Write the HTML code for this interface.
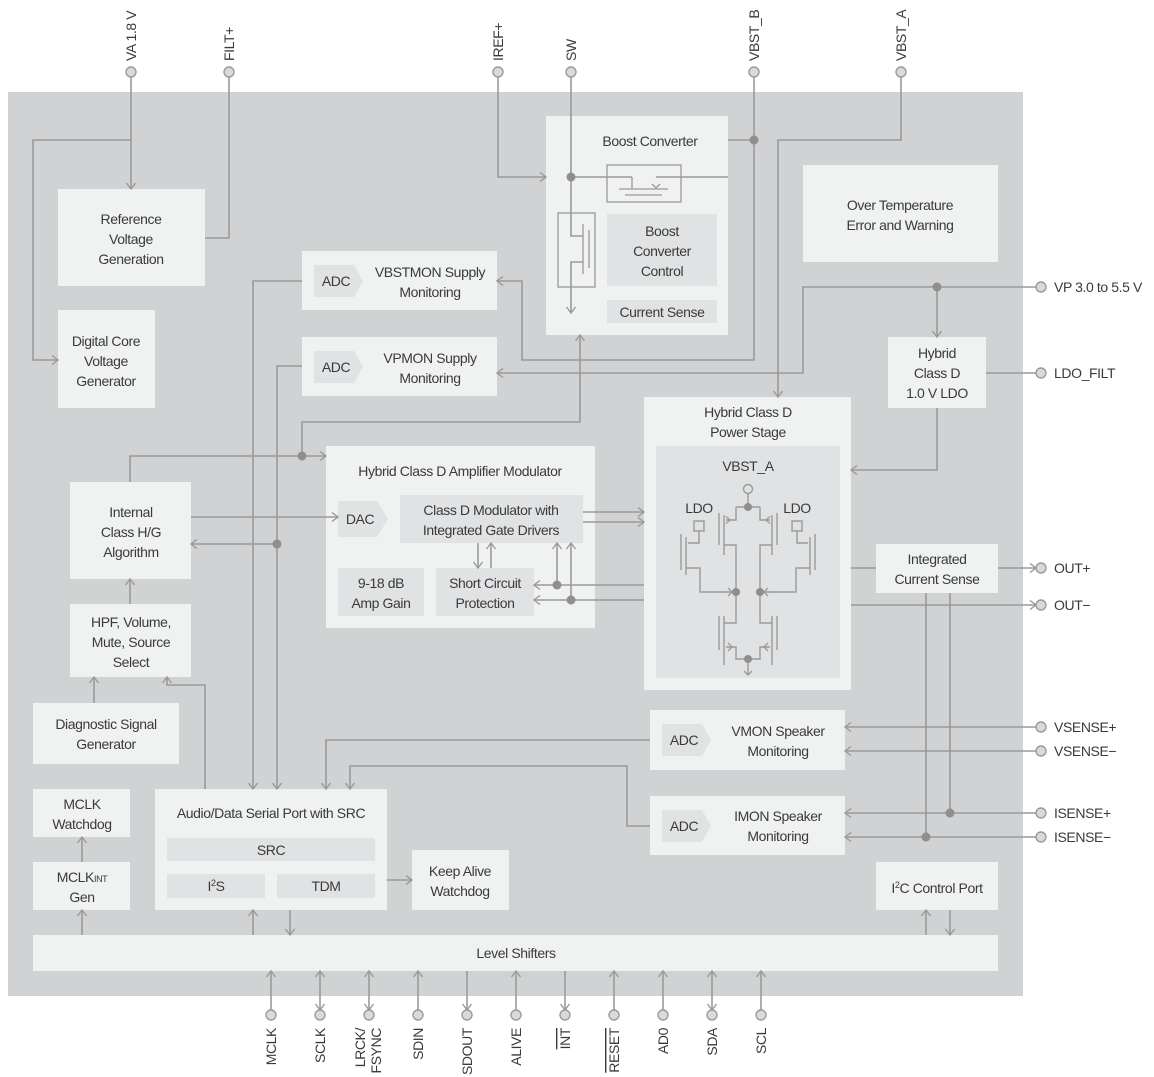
<!DOCTYPE html>
<html><head><meta charset="utf-8"><style>
html,body{margin:0;padding:0;background:#fff}
svg{display:block}
text{font-family:"Liberation Sans",sans-serif;font-size:14px;fill:#3a3a3a;letter-spacing:-0.4px}
.b{fill:#f0f1f1}.i{fill:#e1e2e3}
.l{stroke:#9a9a9a;stroke-width:1.6;fill:none}
.d{fill:#8f8f8f}
.p{fill:#d9dadb;stroke:#9a9a9a;stroke-width:1.4}
</style></head><body>
<svg width="1154" height="1077" viewBox="0 0 1154 1077" xmlns="http://www.w3.org/2000/svg">
<defs>
<marker id="a" markerWidth="10" markerHeight="10" refX="8" refY="5" orient="auto" markerUnits="userSpaceOnUse">
<path d="M2,0.5 L8,5 L2,9.5" fill="none" stroke="#9a9a9a" stroke-width="1.4"/></marker>
<marker id="s" markerWidth="10" markerHeight="10" refX="2" refY="5" orient="auto" markerUnits="userSpaceOnUse">
<path d="M8,0.5 L2,5 L8,9.5" fill="none" stroke="#9a9a9a" stroke-width="1.4"/></marker>
</defs>
<rect x="8" y="92" width="1015" height="904" fill="#d1d2d4"/>

<!-- blocks -->
<rect class="b" x="58" y="189" width="147" height="97"/>
<text x="131" y="224" text-anchor="middle">Reference</text><text x="131" y="244" text-anchor="middle">Voltage</text><text x="131" y="264" text-anchor="middle">Generation</text>
<rect class="b" x="58" y="310" width="97" height="98"/>
<text x="106" y="346" text-anchor="middle">Digital Core</text><text x="106" y="366" text-anchor="middle">Voltage</text><text x="106" y="386" text-anchor="middle">Generator</text>

<rect class="b" x="302" y="251" width="195" height="59"/>
<path class="i" d="M314,265 H354 L363,281 L354,297 H314 Z"/>
<text x="336" y="286" text-anchor="middle">ADC</text>
<text x="430" y="277" text-anchor="middle">VBSTMON Supply</text><text x="430" y="297" text-anchor="middle">Monitoring</text>
<rect class="b" x="302" y="337" width="195" height="59"/>
<path class="i" d="M314,351 H354 L363,367 L354,383 H314 Z"/>
<text x="336" y="372" text-anchor="middle">ADC</text>
<text x="430" y="363" text-anchor="middle">VPMON Supply</text><text x="430" y="383" text-anchor="middle">Monitoring</text>

<rect class="b" x="546" y="116" width="182" height="219"/>
<text x="650" y="146" text-anchor="middle">Boost Converter</text>
<rect class="i" x="607" y="214" width="110" height="72"/>
<text x="662" y="236" text-anchor="middle">Boost</text><text x="662" y="256" text-anchor="middle">Converter</text><text x="662" y="276" text-anchor="middle">Control</text>
<rect class="i" x="607" y="300" width="110" height="23"/>
<text x="662" y="317" text-anchor="middle">Current Sense</text>
<rect x="607" y="165" width="74" height="37" fill="none" stroke="#9a9a9a" stroke-width="1.3"/>
<rect x="558" y="213" width="37" height="74" fill="none" stroke="#9a9a9a" stroke-width="1.3"/>
<path class="l" style="stroke-width:1.3" d="M632,177 V189 M619,189 H668 M625,195 H662"/>
<path d="M652,184 l4,4 l4,-4" fill="none" stroke="#9a9a9a" stroke-width="1.3"/>
<path class="l" style="stroke-width:1.3" d="M583,224 V274 M589,230 V268"/>

<rect class="b" x="803" y="165" width="195" height="97"/>
<text x="900" y="210" text-anchor="middle">Over Temperature</text><text x="900" y="230" text-anchor="middle">Error and Warning</text>

<rect class="b" x="888" y="337" width="98" height="71"/>
<text x="937" y="358" text-anchor="middle">Hybrid</text><text x="937" y="378" text-anchor="middle">Class D</text><text x="937" y="398" text-anchor="middle">1.0 V LDO</text>

<rect class="b" x="644" y="397" width="207" height="293"/>
<text x="748" y="417" text-anchor="middle">Hybrid Class D</text><text x="748" y="437" text-anchor="middle">Power Stage</text>
<rect class="i" x="656" y="446" width="184" height="232"/>
<text x="748" y="471" text-anchor="middle">VBST_A</text>

<!-- power stage schematic -->
<g class="l" style="stroke-width:1.4">
<circle cx="748" cy="489" r="4.5" fill="none"/>
<path d="M748,494 V507 M736,507 H760 M736,507 V520 H726 M760,507 V520 H770"/>
<path d="M724,515 V555 M719,513 V545 M724,545 H736 V592 M772,515 V555 M777,513 V545 M772,545 H760 V592"/>
<path d="M736,592 V623 H724 M760,592 V623 H772 M724,616 V665 M772,616 V665 M719,616 V650 M777,616 V650 M726,647 H736 V659 H760 V647 H770"/>
<path d="M748,659 V675"/>
<rect x="694" y="521" width="10" height="10" fill="none"/><rect x="792" y="521" width="10" height="10" fill="none"/>
<path d="M699,531 V543 H688 M797,531 V543 H808 M686,537 V575 M681,534 V570 M810,537 V575 M815,534 V570"/>
<path d="M686,568 H700 V592 H734 M810,568 H796 V592 H762"/>
</g>
<path d="M730,520 l-4,-3.5 M730,520 l-4,3.5 M766,520 l4,-3.5 M766,520 l4,3.5 M732,592 l-4,-4 M732,592 l-4,4 M764,592 l4,-4 M764,592 l4,4 M732,647 l-4,-4 M732,647 l-4,4 M764,647 l4,-4 M764,647 l4,4 M748,675 l-4,-4 M748,675 l4,-4" stroke="#9a9a9a" stroke-width="1.3" fill="none"/>
<circle class="d" cx="748" cy="507" r="4"/><circle class="d" cx="736" cy="592" r="4"/><circle class="d" cx="760" cy="592" r="4"/><circle class="d" cx="748" cy="659" r="4"/>
<text x="699" y="513" text-anchor="middle">LDO</text><text x="797" y="513" text-anchor="middle">LDO</text>

<rect class="b" x="326" y="446" width="269" height="182"/>
<text x="460" y="476" text-anchor="middle">Hybrid Class D Amplifier Modulator</text>
<path class="i" d="M338,501 H377 L388,519 L377,537 H338 Z"/>
<text x="360" y="524" text-anchor="middle">DAC</text>
<rect class="i" x="400" y="495" width="183" height="48"/>
<text x="491" y="515" text-anchor="middle">Class D Modulator with</text><text x="491" y="535" text-anchor="middle">Integrated Gate Drivers</text>
<rect class="i" x="338" y="568" width="86" height="48"/>
<text x="381" y="588" text-anchor="middle">9-18 dB</text><text x="381" y="608" text-anchor="middle">Amp Gain</text>
<rect class="i" x="436" y="568" width="98" height="48"/>
<text x="485" y="588" text-anchor="middle">Short Circuit</text><text x="485" y="608" text-anchor="middle">Protection</text>

<rect class="b" x="70" y="482" width="121" height="97"/>
<text x="131" y="517" text-anchor="middle">Internal</text><text x="131" y="537" text-anchor="middle">Class H/G</text><text x="131" y="557" text-anchor="middle">Algorithm</text>
<rect class="b" x="70" y="604" width="121" height="73"/>
<text x="131" y="627" text-anchor="middle">HPF, Volume,</text><text x="131" y="647" text-anchor="middle">Mute, Source</text><text x="131" y="667" text-anchor="middle">Select</text>
<rect class="b" x="33" y="703" width="146" height="61"/>
<text x="106" y="729" text-anchor="middle">Diagnostic Signal</text><text x="106" y="749" text-anchor="middle">Generator</text>
<rect class="b" x="33" y="789" width="97" height="48"/>
<text x="82" y="809" text-anchor="middle">MCLK</text><text x="82" y="829" text-anchor="middle">Watchdog</text>
<rect class="b" x="33" y="862" width="97" height="48"/>
<text x="82" y="882" text-anchor="middle">MCLK<tspan font-size="9">INT</tspan></text><text x="82" y="902" text-anchor="middle">Gen</text>

<rect class="b" x="155" y="789" width="232" height="121"/>
<text x="271" y="818" text-anchor="middle">Audio/Data Serial Port with SRC</text>
<rect class="i" x="167" y="838" width="208" height="23"/>
<text x="271" y="855" text-anchor="middle">SRC</text>
<rect class="i" x="167" y="874" width="98" height="24"/>
<text x="216" y="891" text-anchor="middle">I<tspan font-size="9" dy="-5">2</tspan><tspan dy="5">S</tspan></text>
<rect class="i" x="277" y="874" width="98" height="24"/>
<text x="326" y="891" text-anchor="middle">TDM</text>
<rect class="b" x="412" y="850" width="97" height="60"/>
<text x="460" y="876" text-anchor="middle">Keep Alive</text><text x="460" y="896" text-anchor="middle">Watchdog</text>

<rect class="b" x="650" y="710" width="195" height="60"/>
<path class="i" d="M662,724 H702 L711,740 L702,756 H662 Z"/>
<text x="684" y="745" text-anchor="middle">ADC</text>
<text x="778" y="736" text-anchor="middle">VMON Speaker</text><text x="778" y="756" text-anchor="middle">Monitoring</text>
<rect class="b" x="650" y="796" width="195" height="59"/>
<path class="i" d="M662,810 H702 L711,826 L702,842 H662 Z"/>
<text x="684" y="831" text-anchor="middle">ADC</text>
<text x="778" y="821" text-anchor="middle">IMON Speaker</text><text x="778" y="841" text-anchor="middle">Monitoring</text>

<rect class="b" x="876" y="544" width="122" height="49"/>
<text x="937" y="564" text-anchor="middle">Integrated</text><text x="937" y="584" text-anchor="middle">Current Sense</text>
<rect class="b" x="876" y="862" width="122" height="48"/>
<text x="937" y="893" text-anchor="middle">I<tspan font-size="9" dy="-5">2</tspan><tspan dy="5">C Control Port</tspan></text>
<rect class="b" x="33" y="935" width="965" height="36"/>
<text x="516" y="958" text-anchor="middle">Level Shifters</text>

<!-- connectors -->
<path class="l" d="M131,77 V189" marker-end="url(#a)"/>
<path class="l" d="M131,140 H33 V360 H58" marker-end="url(#a)"/>
<path class="l" d="M229,77 V238 H205"/>
<path class="l" d="M498,77 V177 H546" marker-end="url(#a)"/>
<path class="l" d="M571,77 V236 H583 M583,262 H571 V313" marker-end="url(#a)"/>
<path class="l" d="M571,177 H632 M656,177 H728"/>
<circle class="d" cx="571" cy="177" r="4.5"/>
<path class="l" d="M754,77 V360 H522 V281 H497" marker-end="url(#a)"/>
<path class="l" d="M728,140 H754"/><circle class="d" cx="754" cy="140" r="4.5"/>
<path class="l" d="M901,77 V140 H778 V397" marker-end="url(#a)"/>
<path class="l" d="M1036,287 H803 V373 H497" marker-end="url(#a)"/>
<path class="l" d="M937,287 V337" marker-end="url(#a)"/><circle class="d" cx="937" cy="287" r="4.5"/>
<path class="l" d="M1036,373 H986"/>
<path class="l" d="M937,408 V470 H851" marker-end="url(#a)"/>
<path class="l" d="M302,281 H253 V789" marker-end="url(#a)"/>
<path class="l" d="M302,366 H277 V789" marker-end="url(#a)"/>
<path class="l" d="M277,544 H191" marker-end="url(#a)"/><circle class="d" cx="277" cy="544" r="4.5"/>
<path class="l" d="M130,482 V456 H326" marker-end="url(#a)"/>
<path class="l" d="M302,456 V422 H580 V335" marker-end="url(#a)"/><circle class="d" cx="302" cy="456" r="4.5"/>
<path class="l" d="M191,517 H338" marker-end="url(#a)"/>
<path class="l" d="M205,789 V685 H167 V677" marker-end="url(#a)"/>
<path class="l" d="M94,703 V677" marker-end="url(#a)"/>
<path class="l" d="M130,604 V579" marker-end="url(#a)"/>
<path class="l" d="M82,862 V837" marker-end="url(#a)"/>
<path class="l" d="M82,935 V910" marker-end="url(#a)"/>
<path class="l" d="M253,935 V910" marker-end="url(#a)"/>
<path class="l" d="M290,910 V935" marker-end="url(#a)"/>
<path class="l" d="M387,880 H412" marker-end="url(#a)"/>
<path class="l" d="M926,935 V910" marker-end="url(#a)"/>
<path class="l" d="M950,910 V935" marker-end="url(#a)"/>
<path class="l" d="M650,740 H326 V789" marker-end="url(#a)"/>
<path class="l" d="M650,826 H627 V766 H350 V789" marker-end="url(#a)"/>
<path class="l" d="M583,512 H644" marker-end="url(#a)"/>
<path class="l" d="M583,522 H644" marker-end="url(#a)"/>
<path class="l" d="M478,543 V568" marker-end="url(#a)"/>
<path class="l" d="M491,568 V543" marker-end="url(#a)"/>
<path class="l" d="M644,585 H534" marker-end="url(#a)"/>
<path class="l" d="M644,600 H534" marker-end="url(#a)"/>
<path class="l" d="M557,585 V543" marker-end="url(#a)"/><circle class="d" cx="557" cy="585" r="4.5"/>
<path class="l" d="M571,600 V543" marker-end="url(#a)"/><circle class="d" cx="571" cy="600" r="4.5"/>
<path class="l" d="M851,568 H876 M998,568 H1036" marker-end="url(#a)"/>
<path class="l" d="M851,605 H1036" marker-end="url(#a)"/>
<path class="l" d="M1036,727 H845" marker-end="url(#a)"/>
<path class="l" d="M1036,751 H845" marker-end="url(#a)"/>
<path class="l" d="M1036,813 H845" marker-end="url(#a)"/>
<path class="l" d="M1036,837 H845" marker-end="url(#a)"/>
<path class="l" d="M950,593 V813 M926,593 V837"/>
<circle class="d" cx="950" cy="813" r="4.5"/><circle class="d" cx="926" cy="837" r="4.5"/>

<!-- bottom pin connectors -->
<path class="l" d="M271,1010 V971" marker-end="url(#a)"/>
<path class="l" d="M320,971 V1010" marker-start="url(#s)" marker-end="url(#a)"/>
<path class="l" d="M369,971 V1010" marker-start="url(#s)" marker-end="url(#a)"/>
<path class="l" d="M418,1010 V971" marker-end="url(#a)"/>
<path class="l" d="M467,971 V1010" marker-end="url(#a)"/>
<path class="l" d="M516,1010 V971" marker-end="url(#a)"/>
<path class="l" d="M565,971 V1010" marker-end="url(#a)"/>
<path class="l" d="M614,1010 V971" marker-end="url(#a)"/>
<path class="l" d="M663,1010 V971" marker-end="url(#a)"/>
<path class="l" d="M712,971 V1010" marker-start="url(#s)" marker-end="url(#a)"/>
<path class="l" d="M761,1010 V971" marker-end="url(#a)"/>

<!-- pins -->
<g>
<circle class="p" cx="131" cy="72" r="5"/><circle class="p" cx="229" cy="72" r="5"/><circle class="p" cx="498" cy="72" r="5"/>
<circle class="p" cx="571" cy="72" r="5"/><circle class="p" cx="754" cy="72" r="5"/><circle class="p" cx="901" cy="72" r="5"/>
<circle class="p" cx="1041" cy="287" r="5"/><circle class="p" cx="1041" cy="373" r="5"/><circle class="p" cx="1041" cy="568" r="5"/>
<circle class="p" cx="1041" cy="605" r="5"/><circle class="p" cx="1041" cy="727" r="5"/><circle class="p" cx="1041" cy="751" r="5"/>
<circle class="p" cx="1041" cy="813" r="5"/><circle class="p" cx="1041" cy="837" r="5"/>
<circle class="p" cx="271" cy="1015" r="5"/><circle class="p" cx="320" cy="1015" r="5"/><circle class="p" cx="369" cy="1015" r="5"/>
<circle class="p" cx="418" cy="1015" r="5"/><circle class="p" cx="467" cy="1015" r="5"/><circle class="p" cx="516" cy="1015" r="5"/>
<circle class="p" cx="565" cy="1015" r="5"/><circle class="p" cx="614" cy="1015" r="5"/><circle class="p" cx="663" cy="1015" r="5"/>
<circle class="p" cx="712" cy="1015" r="5"/><circle class="p" cx="761" cy="1015" r="5"/>
</g>
<text transform="translate(136,61) rotate(-90)">VA 1.8 V</text>
<text transform="translate(234,61) rotate(-90)">FILT+</text>
<text transform="translate(503,61) rotate(-90)">IREF+</text>
<text transform="translate(576,61) rotate(-90)">SW</text>
<text transform="translate(759,61) rotate(-90)">VBST_B</text>
<text transform="translate(906,61) rotate(-90)">VBST_A</text>
<text x="1054" y="292">VP 3.0 to 5.5 V</text>
<text x="1054" y="378">LDO_FILT</text>
<text x="1054" y="573">OUT+</text>
<text x="1054" y="610">OUT−</text>
<text x="1054" y="732">VSENSE+</text>
<text x="1054" y="756">VSENSE−</text>
<text x="1054" y="818">ISENSE+</text>
<text x="1054" y="842">ISENSE−</text>
<text transform="translate(276,1028) rotate(-90)" text-anchor="end">MCLK</text>
<text transform="translate(325,1028) rotate(-90)" text-anchor="end">SCLK</text>
<text transform="translate(365,1028) rotate(-90)" text-anchor="end">LRCK/</text>
<text transform="translate(381,1028) rotate(-90)" text-anchor="end">FSYNC</text>
<text transform="translate(423,1028) rotate(-90)" text-anchor="end">SDIN</text>
<text transform="translate(472,1028) rotate(-90)" text-anchor="end">SDOUT</text>
<text transform="translate(521,1028) rotate(-90)" text-anchor="end">ALIVE</text>
<text transform="translate(570,1028) rotate(-90)" text-anchor="end" text-decoration="overline">INT</text>
<text transform="translate(619,1028) rotate(-90)" text-anchor="end" text-decoration="overline">RESET</text>
<text transform="translate(668,1028) rotate(-90)" text-anchor="end">AD0</text>
<text transform="translate(717,1028) rotate(-90)" text-anchor="end">SDA</text>
<text transform="translate(766,1028) rotate(-90)" text-anchor="end">SCL</text>
</svg>
</body></html>
